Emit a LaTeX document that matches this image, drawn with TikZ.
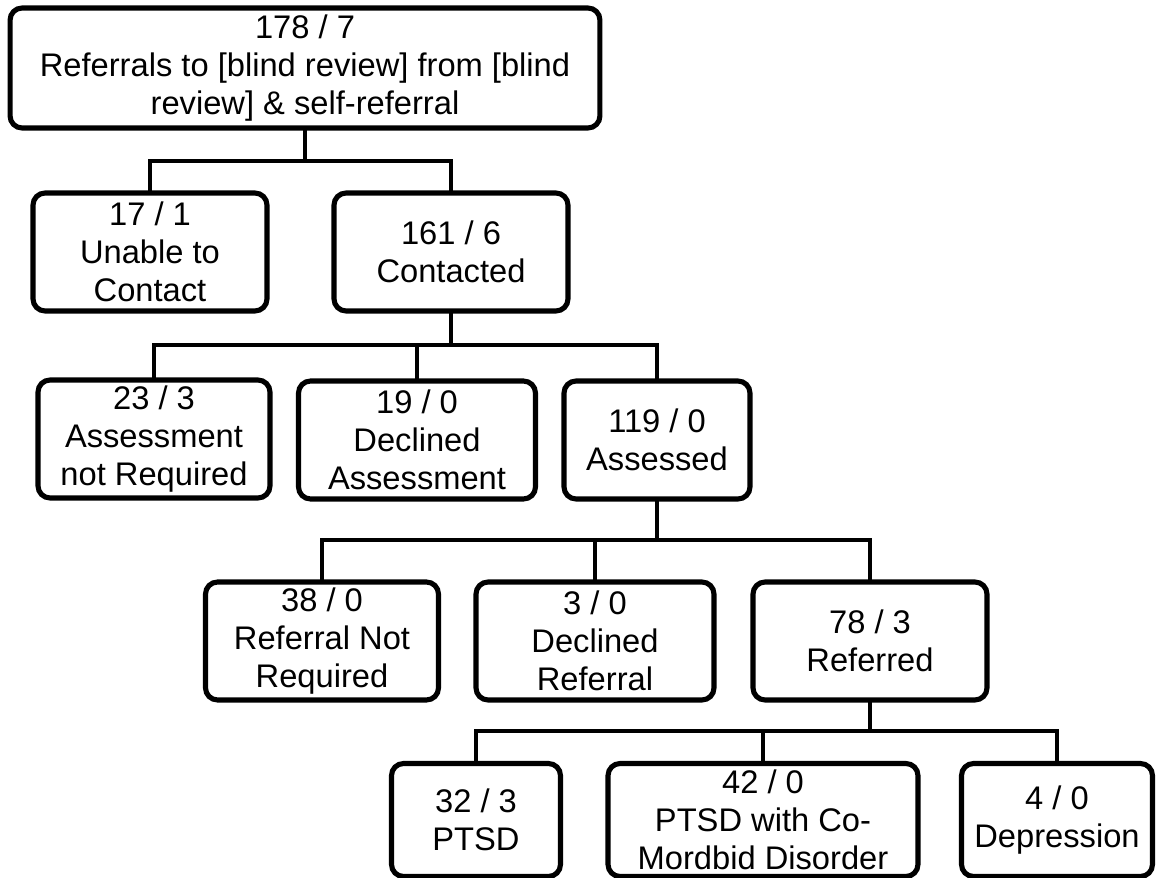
\documentclass[tikz,border=0pt]{standalone}
\usepackage{fontspec}
\setmainfont{Liberation Sans}
\usepackage{tikz}

\begin{document}
\begin{tikzpicture}[
    x=0.02cm, y=-0.02cm,
    box/.style={draw, rectangle, rounded corners=0.24cm, line width=2.9pt, align=center,
        inner sep=0pt, minimum height=2.36cm, font=\fontsize{18.6}{21.8}\selectfont},
    conn/.style={line width=2.6pt, line cap=rect}
]
\useasboundingbox (0,0) rectangle (1156,878);

% Ebene 1
\node[box, minimum width=11.8cm, minimum height=2.4cm] (root) at (305,68)
    {178 / 7\\Referrals to [blind review] from [blind\\review] \& self-referral};

% Ebene 2
\node[box, minimum width=4.68cm] (unable) at (150,252) {17 / 1\\Unable to\\Contact};
\node[box, minimum width=4.68cm] (contacted) at (451,252) {161 / 6\\Contacted};

% Ebene 3
\node[box, minimum width=4.64cm] (notreq) at (154,439) {23 / 3\\Assessment\\not Required};
\node[box, minimum width=4.74cm] (declass) at (417,440) {19 / 0\\Declined\\Assessment};
\node[box, minimum width=3.72cm] (assessed) at (657,440) {119 / 0\\Assessed};

% Ebene 4
\node[box, minimum width=4.66cm] (refnotreq) at (322,641) {38 / 0\\Referral Not\\Required};
\node[box, minimum width=4.76cm] (declref) at (595,641) {3 / 0\\Declined\\Referral};
\node[box, minimum width=4.68cm] (referred) at (870,641) {78 / 3\\Referred};

% Ebene 5
\node[box, minimum width=3.38cm, minimum height=2.26cm] (ptsd) at (476,820) {32 / 3\\PTSD};
\node[box, minimum width=6.2cm, minimum height=2.26cm] (comorbid) at (763,820) {42 / 0\\PTSD with Co-\\Mordbid Disorder};
\node[box, minimum width=3.82cm, minimum height=2.26cm] (depression) at (1057,820) {4 / 0\\Depression};

% Verbindungen
\draw[conn] (root.south) -- (root.south |- 0,161);
\draw[conn] (unable.north) |- (root.south |- 0,161) -| (contacted.north);

\draw[conn] (contacted.south) -- (contacted.south |- 0,345);
\draw[conn] (notreq.north) |- (contacted.south |- 0,345) -| (assessed.north);
\draw[conn] (declass.north) -- (declass.north |- 0,345);

\draw[conn] (assessed.south) -- (assessed.south |- 0,540);
\draw[conn] (refnotreq.north) |- (assessed.south |- 0,540) -| (referred.north);
\draw[conn] (declref.north) -- (declref.north |- 0,540);

\draw[conn] (referred.south) -- (referred.south |- 0,731);
\draw[conn] (ptsd.north) |- (referred.south |- 0,731) -| (depression.north);
\draw[conn] (comorbid.north) -- (comorbid.north |- 0,731);

\end{tikzpicture}
\end{document}
